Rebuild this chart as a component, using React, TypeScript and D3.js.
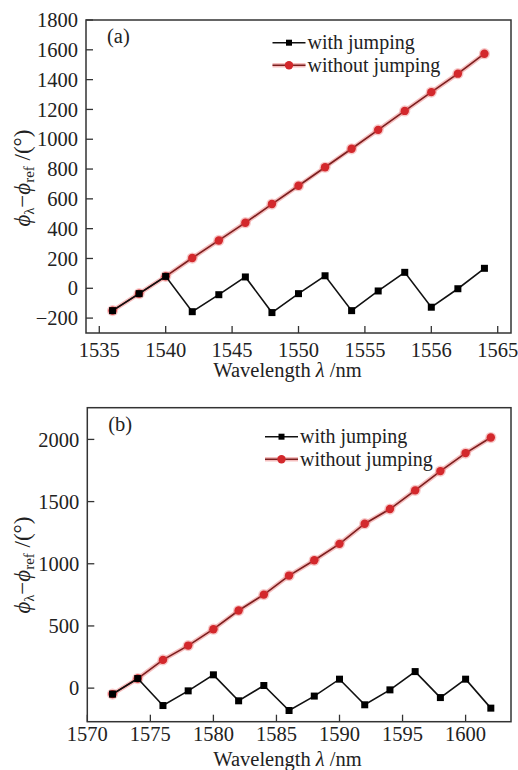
import React from "react";
import * as d3 from "d3";

// ---------- Data ----------
const wavelengthsA = [1536, 1538, 1540, 1542, 1544, 1546, 1548, 1550, 1552, 1554, 1556, 1558, 1560, 1562, 1564];
const withJumpingA = [-150, -36, 80, -157, -43, 76, -163, -36, 84, -150, -18, 107, -127, -3, 134];
const withoutJumpingA = [-150, -36, 80, 203, 321, 440, 565, 688, 812, 936, 1063, 1190, 1316, 1440, 1574];
const xTicksA = [1535, 1540, 1545, 1550, 1555, 1560, 1565];
const xTickLabelsA = ["1535", "1540", "1545", "1550", "1555", "1556", "1565"];
const yTicksA = [-200, 0, 200, 400, 600, 800, 1000, 1200, 1400, 1600, 1800];

const wavelengthsB = [1572, 1574, 1576, 1578, 1580, 1582, 1584, 1586, 1588, 1590, 1592, 1594, 1596, 1598, 1600, 1602];
const withJumpingB = [-48, 77, -140, -22, 107, -102, 21, -180, -64, 72, -134, -14, 133, -76, 72, -161];
const withoutJumpingB = [-48, 77, 227, 342, 474, 624, 752, 905, 1028, 1160, 1322, 1440, 1590, 1745, 1890, 2015];
const xTicksB = [1570, 1575, 1580, 1585, 1590, 1595, 1600];
const xTickLabelsB = ["1570", "1575", "1580", "1585", "1590", "1595", "1600"];
const yTicksB = [0, 500, 1000, 1500, 2000];

const seriesNames = ["with jumping", "without jumping"];
const panelLabels = ["(a)", "(b)"];

const FONT = "'Liberation Serif', 'Times New Roman', 'DejaVu Serif', serif";
const fmt = (v: number) => (v < 0 ? "\u2212" + Math.abs(v) : String(v));

type PanelProps = {
  xs: number[];
  withJ: number[];
  withoutJ: number[];
  xDomain: [number, number];
  yDomain: [number, number];
  left: number;
  right: number;
  top: number;
  bottom: number;
  xTicks: number[];
  xTickLabels: string[];
  yTicks: number[];
  label: string;
  legendX: number;
  legendY: number;
  xTickY: number;
  xLabelY: number;
  yLabelCY: number;
};

function Panel(p: PanelProps) {
  const x = d3.scaleLinear().domain(p.xDomain).range([p.left, p.right]);
  const y = d3.scaleLinear().domain(p.yDomain).range([p.bottom, p.top]);
  const line = d3
    .line<number>()
    .x((_, i) => x(p.xs[i]))
    .y((d) => y(d));
  const redPath = line(p.withoutJ) || "";
  const blackPath = line(p.withJ) || "";
  const tickLen = 7;
  return (
    <g style={{ fontFamily: FONT }} fill="#222">
      {/* frame */}
      <rect
        x={p.left}
        y={p.top}
        width={p.right - p.left}
        height={p.bottom - p.top}
        fill="none"
        stroke="#333"
        strokeWidth={1.5}
      />
      {/* y ticks */}
      {p.yTicks.map((t) => (
        <g key={"y" + t}>
          <line x1={p.left} x2={p.left + tickLen} y1={y(t)} y2={y(t)} stroke="#333" strokeWidth={1.3} />
          <text x={p.left - 8} y={y(t)} dy="0.35em" textAnchor="end" fontSize={20.5}>
            {fmt(t)}
          </text>
        </g>
      ))}
      {/* x ticks */}
      {p.xTicks.map((t, i) => (
        <g key={"x" + t}>
          <line x1={x(t)} x2={x(t)} y1={p.bottom} y2={p.bottom - tickLen} stroke="#333" strokeWidth={1.3} />
          <text x={x(t)} y={p.xTickY} textAnchor="middle" fontSize={20.5}>
            {p.xTickLabels[i]}
          </text>
        </g>
      ))}
      {/* axis labels */}
      <text x={287.5} y={p.xLabelY} textAnchor="middle" fontSize={20.5}>
        Wavelength <tspan fontStyle="italic">λ</tspan> /nm
      </text>
      <text
        transform={`translate(30,${p.yLabelCY}) rotate(-90)`}
        textAnchor="middle"
        fontSize={23}
      >
        <tspan fontStyle="italic">ϕ</tspan>
        <tspan fontSize={14} dy={4}>λ</tspan>
        <tspan dy={-4}>−</tspan>
        <tspan fontStyle="italic">ϕ</tspan>
        <tspan fontSize={15} dy={4}>ref</tspan>
        <tspan dy={-4}> /(°)</tspan>
      </text>
      {/* panel label */}
      <text x={p.left + 21} y={p.top + 23} fontSize={20.5}>
        {p.label}
      </text>
      {/* red series (without jumping) */}
      <path d={redPath} fill="none" stroke="rgba(225,70,70,0.35)" strokeWidth={4.5} />
      <path d={redPath} fill="none" stroke="#7d1e1e" strokeWidth={1.6} />
      {p.withoutJ.map((v, i) => (
        <g key={"r" + i}>
          <circle cx={x(p.xs[i])} cy={y(v)} r={5.6} fill="rgba(230,80,80,0.3)" />
          <circle cx={x(p.xs[i])} cy={y(v)} r={4.2} fill="#d3282c" />
        </g>
      ))}
      {/* black series (with jumping) */}
      <path d={blackPath} fill="none" stroke="#111" strokeWidth={1.6} />
      {p.withJ.map((v, i) => (
        <rect key={"b" + i} x={x(p.xs[i]) - 3.5} y={y(v) - 3.5} width={7} height={7} fill="#000" />
      ))}
      {/* legend */}
      <g>
        <line x1={p.legendX} x2={p.legendX + 33} y1={p.legendY} y2={p.legendY} stroke="#111" strokeWidth={1.6} />
        <rect x={p.legendX + 16.5 - 3} y={p.legendY - 3} width={6} height={6} fill="#000" />
        <text x={p.legendX + 35} y={p.legendY} dy="0.32em" fontSize={20}>
          {seriesNames[0]}
        </text>
        <line
          x1={p.legendX}
          x2={p.legendX + 33}
          y1={p.legendY + 22.5}
          y2={p.legendY + 22.5}
          stroke="rgba(225,70,70,0.35)"
          strokeWidth={4.5}
        />
        <line x1={p.legendX} x2={p.legendX + 33} y1={p.legendY + 22.5} y2={p.legendY + 22.5} stroke="#7d1e1e" strokeWidth={1.6} />
        <circle cx={p.legendX + 16.5} cy={p.legendY + 22.5} r={4.2} fill="#d3282c" />
        <text x={p.legendX + 35} y={p.legendY + 22.5} dy="0.32em" fontSize={20}>
          {seriesNames[1]}
        </text>
      </g>
    </g>
  );
}

export default function App() {
  return (
    <svg
      width={518}
      height={770}
      style={{ position: "absolute", left: 0, top: 0, background: "#fff" }}
    >
      <Panel
        xs={wavelengthsA}
        withJ={withJumpingA}
        withoutJ={withoutJumpingA}
        xDomain={[1534, 1566]}
        yDomain={[-300, 1800]}
        left={86}
        right={511}
        top={20}
        bottom={333}
        xTicks={xTicksA}
        xTickLabels={xTickLabelsA}
        yTicks={yTicksA}
        label={panelLabels[0]}
        legendX={272.5}
        legendY={42.7}
        xTickY={357}
        xLabelY={377}
        yLabelCY={178}
      />
      <Panel
        xs={wavelengthsB}
        withJ={withJumpingB}
        withoutJ={withoutJumpingB}
        xDomain={[1570, 1603.6]}
        yDomain={[-270, 2255]}
        left={87.3}
        right={511}
        top={407.7}
        bottom={721.7}
        xTicks={xTicksB}
        xTickLabels={xTickLabelsB}
        yTicks={yTicksB}
        label={panelLabels[1]}
        legendX={265}
        legendY={436.7}
        xTickY={741}
        xLabelY={766}
        yLabelCY={565}
      />
    </svg>
  );
}
